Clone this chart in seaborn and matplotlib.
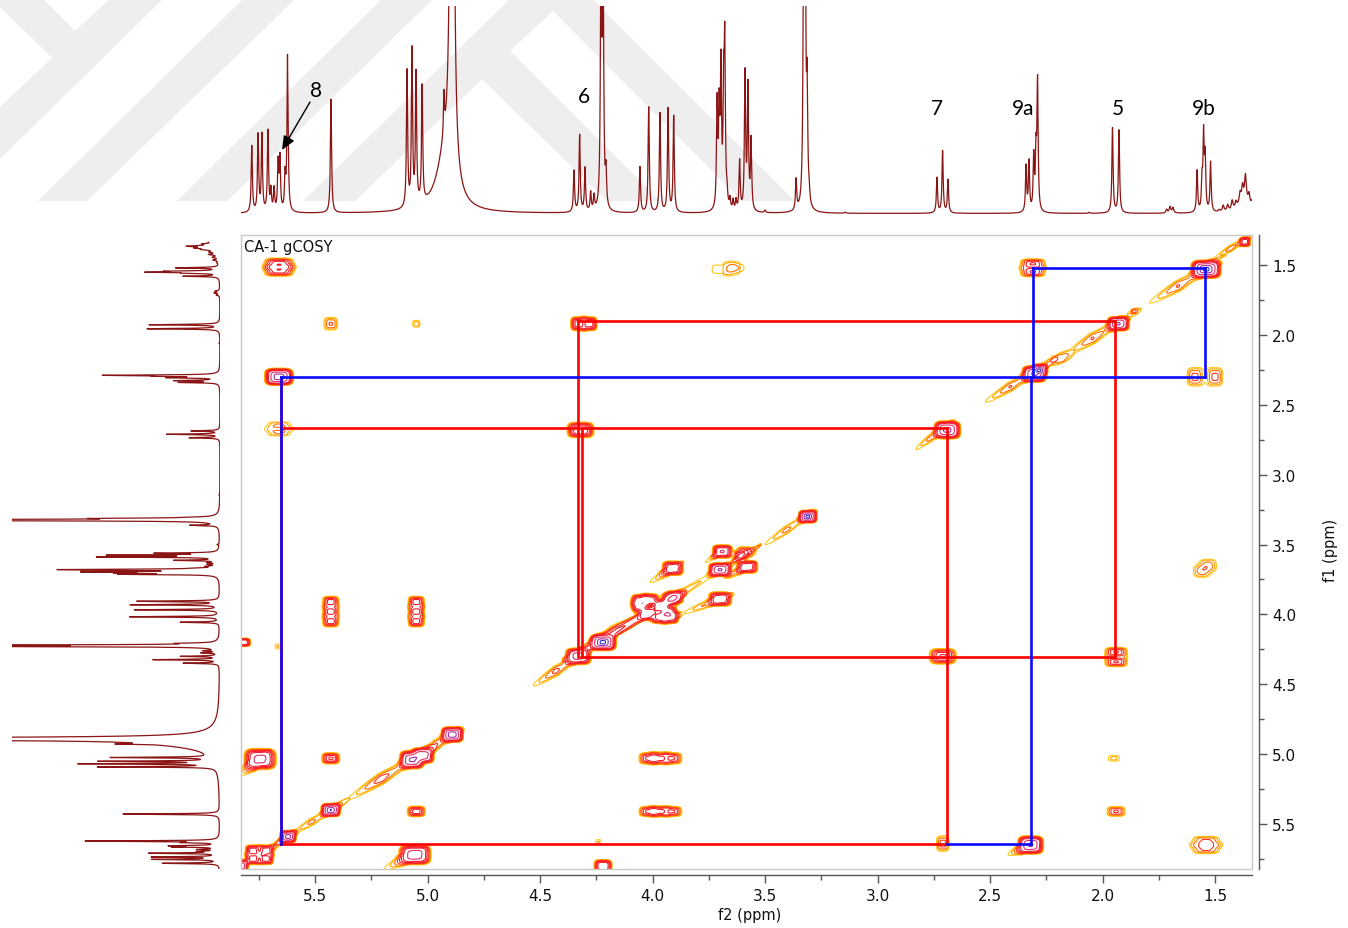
import numpy as np
import pandas as pd
import matplotlib
matplotlib.use("Agg")
import matplotlib.pyplot as plt
from matplotlib.patches import Polygon, Rectangle
import seaborn as sns

W, H = 1348, 929
X_LEFT, X_RIGHT = 5.829, 1.336
Y_TOP, Y_BOTTOM = 1.285, 5.822

# 1D proton spectrum: peak position (ppm), height, half-width (ppm)
peak_ppm = [5.781,5.753,5.736,5.709,5.696,5.682,5.664,5.656,5.633,5.622,5.429,5.091,5.069,5.051,5.024,
            4.891,4.922,4.927,4.349,4.324,4.300,4.275,4.260,4.229,4.220,4.207,4.056,4.017,3.967,3.931,3.906,
            3.713,3.704,3.696,3.684,3.679,3.669,3.656,3.642,3.629,3.613,3.589,3.576,3.562,3.500,3.362,
            3.328,3.322,3.313,3.304,3.144,2.736,2.711,2.687,2.340,2.327,2.306,2.296,2.289,2.060,1.956,1.927,
            1.715,1.700,1.687,1.580,1.558,1.551,1.544,1.520,1.482,1.464,1.444,1.424,1.407,1.389,1.378,1.365,1.349,1.336,1.37]
peak_height = [.32,.37,.37,.39,.10,.11,.23,.25,.16,.76,.55,.66,.75,.63,.56,
               6.7,.26,.20,.20,.37,.21,.09,.07,1.30,1.30,.16,.22,.51,.48,.50,.47,
               .50,.44,.66,.50,.74,.06,.05,.05,.05,.24,.66,.59,.34,.012,.15,
               1.50,1.50,.52,.05,.005,.17,.30,.16,.22,.24,.26,.26,.62,.005,.41,.40,
               .018,.03,.026,.20,.14,.36,.25,.24,.01,.03,.03,.045,.03,.05,.07,.12,.05,.03,.06]
peak_width = [.0031]*15 + [.0053,.044,.0027] + [.0031]*44 + [.004]*3 + [.0031]*5 + [.0045]*10 + [.03]

# Correlation peaks in the COSY plane: f2, f1, half-extent f2, half-extent f1, strength
blob_f2 = [1.367,1.54,1.93,2.304,2.28,2.69,3.31,3.69,3.58,3.70,3.91,3.70,3.59,3.61,
           4.056,4.011,3.922,3.96,4.056,4.026,3.93,3.967,3.922,3.90,4.22,4.33,4.89,5.07,5.02,5.43,5.62,
           5.744,5.43,5.05,5.056,5.776,5.718,5.776,5.718,5.83,5.66,5.66,5.43,5.05,4.33,4.28,3.70,3.62,
           2.31,2.31,1.59,1.50,5.66,5.66,5.66,4.32,1.94,1.94,2.71,5.82,5.665,5.43,5.43,5.43,5.05,5.05,5.05,
           1.53,1.56,4.02,3.97,3.91,4.02,3.97,3.91,4.22,4.24,1.95,1.94,2.71,2.32,1.54,1.54,1.86,2.20]
blob_f1 = [1.335,1.53,1.92,2.28,2.25,2.68,3.30,3.55,3.66,3.68,3.67,3.89,3.55,3.58,
           3.902,3.897,3.89,3.938,3.94,4.00,3.985,4.02,4.02,3.876,4.20,4.30,4.86,5.04,5.01,5.40,5.59,
           5.035,5.03,5.41,5.72,5.69,5.69,5.75,5.75,5.80,1.49,1.54,1.92,1.92,1.92,1.92,1.53,1.52,
           1.49,1.55,2.30,2.30,2.30,2.645,2.70,2.68,4.27,4.34,4.30,4.20,4.23,3.91,3.98,4.05,3.91,3.98,4.05,
           3.64,3.70,5.03,5.03,5.03,5.41,5.41,5.41,5.80,5.63,5.03,5.41,5.64,5.65,5.62,5.68,1.83,2.17]
blob_wx = [.024,.068,.05,.055,.034,.06,.042,.045,.048,.052,.048,.052,.034,.026,
           .038,.038,.038,.038,.038,.038,.038,.038,.038,.038,.06,.058,.05,.055,.05,.044,.037,
           .072,.04,.04,.072,.034,.034,.034,.034,.034,.065,.065,.03,.016,.034,.034,.035,.026,
           .055,.055,.034,.034,.065,.05,.05,.06,.05,.05,.06,.034,.012,.036,.036,.036,.036,.036,.036,
           .028,.028,.04,.04,.04,.04,.04,.04,.04,.012,.024,.04,.028,.058,.058,.058,.006,.03]
blob_wy = [.034,.066,.052,.06,.04,.065,.046,.048,.046,.05,.052,.052,.034,.03,
           .045,.045,.045,.045,.045,.045,.045,.045,.045,.045,.06,.06,.056,.066,.056,.048,.045,
           .076,.04,.038,.072,.04,.04,.04,.04,.045,.04,.04,.045,.024,.05,.05,.03,.025,
           .034,.034,.066,.066,.062,.022,.022,.056,.034,.034,.056,.03,.018,.04,.04,.04,.04,.04,.04,
           .035,.035,.04,.04,.04,.035,.035,.035,.045,.018,.02,.035,.055,.066,.032,.032,.008,.024]
blob_amp = [8,40,25,25,30,30,40,12,10,25,10,10,3,5,
            8,8,8,8,8,8,8,8,8,8,40,16,35,25,20,35,30,
            16,6,5,20,8,8,8,8,25,5,5,2.2,1.5,8,8,1.25,1.25,
            4,4,2.4,2.4,35,1.7,1.7,10,4,4,6,12,1.3,5,5,5,5,5,5,
            1.4,1.4,4,4,4,4,4,4,12,1.3,1.4,3,2.5,25,2.2,2.2,1.2,1.3]

# Ridges along the diagonal: f2/f1 of each end, width (ppm on f1), strength
ridge_x1 = [1.36,1.54,1.93,2.30,2.71,3.31,3.70,3.91,3.69,3.58,3.70,4.08,4.33,5.06,4.89,5.43,5.62,2.32,5.74,5.06,3.95,3.55]
ridge_y1 = [1.31,1.53,1.91,2.26,2.67,3.29,3.68,3.67,3.55,3.66,3.89,4.03,4.30,5.03,4.86,5.40,5.59,5.65,5.03,5.72,3.93,3.53]
ridge_x2 = [1.50,1.79,2.16,2.52,2.83,3.50,4.10,4.01,3.76,3.66,3.86,4.26,4.53,5.35,5.03,5.60,5.70,2.42,5.83,5.19,4.30,3.62]
ridge_y2 = [1.45,1.77,2.14,2.48,2.82,3.50,4.07,3.77,3.62,3.73,3.99,4.20,4.51,5.32,5.00,5.57,5.68,5.72,5.15,5.82,4.24,3.60]
ridge_w  = [.022,.04,.04,.034,.024,.028,.026,.024,.014,.02,.024,.04,.036,.042,.036,.026,.024,.03,.034,.034,.024,.014]
ridge_amp = [2,2.2,2.2,2.2,1.8,1.8,1.7,1.6,1.4,1.5,1.6,2.2,2.4,2.6,2.2,1.8,1.8,2,1.8,1.8,1.5,1.25]

# Assignment boxes: f2 start, f2 end, f1 start, f1 end
red_segments = [(4.33,1.944,1.90,1.90),(4.33,4.33,1.90,4.305),(4.315,4.315,2.667,4.305),
                (5.65,2.69,2.667,2.667),(4.32,1.944,4.305,4.305),(1.944,1.944,1.90,4.305),
                (2.69,2.69,2.667,5.643),(5.65,2.69,5.643,5.643),(5.65,5.65,2.30,5.643)]
blue_segments = [(2.31,1.544,1.52,1.52),(1.544,1.544,1.52,2.30),(5.65,1.544,2.30,2.30),
                 (2.31,2.31,1.52,2.30),(2.32,2.32,2.30,5.643),(2.69,2.32,5.643,5.643),(5.65,5.65,2.30,5.643)]

top_labels = ["8", "6", "7", "9a", "5", "9b"]
top_label_px = [(316, 91), (584, 97), (937, 109), (1023, 109), (1118, 109), (1204, 109)]

sns.set_theme(style="white")
plt.rcParams["font.family"] = ["DejaVu Sans"]
fig = plt.figure(figsize=(W / 100, H / 100), dpi=100)


def axes_px(x0, y0, x1, y1, **kw):
    return fig.add_axes([x0 / W, 1 - y1 / H, (x1 - x0) / W, (y1 - y0) / H], **kw)


# background watermark and free annotations, in pixel space
bg = axes_px(0, 0, W, H, zorder=0)
bg.set_xlim(0, W); bg.set_ylim(H, 0); bg.axis("off")
for poly in [
    [(0, 8), (52, 59), (0, 108), (0, 160), (163, 0), (110, 0), (75, 32), (43, 0), (0, 0)],
    [(243, 0), (295, 0), (87, 202), (38, 202)],
    [(382, 0), (433, 0), (227, 202), (177, 202)],
    [(303, 202), (510, 0), (592, 0), (795, 202), (742, 202), (553, 12), (510, 52),
     (660, 202), (607, 202), (482, 80), (355, 202)],
]:
    bg.add_patch(Polygon(poly, closed=True, fc="#eeeeee", ec="none"))

# spectrum trace
ppm = np.arange(X_RIGHT, X_LEFT + 0.0005, 0.0008)
trace = np.zeros_like(ppm)
for c, a, g in zip(peak_ppm, peak_height, peak_width):
    trace += a * g ** 2 / ((ppm - c) ** 2 + g ** 2)
spec = pd.DataFrame({"ppm": ppm, "intensity": trace})
LINE = "#8b1414"

top = axes_px(241, 7, 1252, 214.5, zorder=1)
top.patch.set_alpha(0)
sns.lineplot(data=spec, x="ppm", y="intensity", ax=top, color=LINE, lw=0.9, estimator=None, sort=False)
top.set_xlim(X_LEFT, X_RIGHT); top.set_ylim(0, 1); top.axis("off")

side = axes_px(12, 236, 220, 870, zorder=1)
side.patch.set_alpha(0)
sns.lineplot(data=spec, x="intensity", y="ppm", ax=side, color=LINE, lw=0.9, estimator=None, sort=False)
side.set_xlim(208 / 176, 0); side.set_ylim(Y_BOTTOM, Y_TOP); side.axis("off")

# 2D plane
ax = axes_px(241, 236, 1252, 870, zorder=2)
ax.patch.set_alpha(0)
PXX, PXY = 1011 / (X_LEFT - X_RIGHT), 634 / (Y_BOTTOM - Y_TOP)
gx = np.linspace(X_RIGHT, X_LEFT, 2000)
gy = np.linspace(Y_TOP, Y_BOTTOM, 1260)
Z = np.zeros((gy.size, gx.size))


def window(lo, hi, arr):
    return np.searchsorted(arr, lo), np.searchsorted(arr, hi)


for x, y, wx, wy, a in zip(blob_f2, blob_f1, blob_wx, blob_wy, blob_amp):
    i0, i1 = window(x - 2.5 * wx, x + 2.5 * wx, gx)
    j0, j1 = window(y - 2.5 * wy, y + 2.5 * wy, gy)
    if i1 <= i0 or j1 <= j0:
        continue
    XX, YY = np.meshgrid(gx[i0:i1], gy[j0:j1])
    r2 = np.sqrt(((XX - x) / wx) ** 4 + ((YY - y) / wy) ** 4)
    Z[j0:j1, i0:i1] += a ** (1 - r2)

for x1, y1, x2, y2, w, a in zip(ridge_x1, ridge_y1, ridge_x2, ridge_y2, ridge_w, ridge_amp):
    i0, i1 = window(min(x1, x2) - .1, max(x1, x2) + .1, gx)
    j0, j1 = window(min(y1, y2) - .1, max(y1, y2) + .1, gy)
    XX, YY = np.meshgrid(gx[i0:i1], gy[j0:j1])
    ex, ey = (x2 - x1) * PXX, (y2 - y1) * PXY
    L = np.hypot(ex, ey) / 2
    ex, ey = ex / (2 * L), ey / (2 * L)
    dx = (XX - (x1 + x2) / 2) * PXX
    dy = (YY - (y1 + y2) / 2) * PXY
    along = dx * ex + dy * ey
    perp = -dx * ey + dy * ex
    r = np.abs(along / L) + (perp / (w * PXY)) ** 2
    Z[j0:j1, i0:i1] += np.where(r < 2, a ** (1 - r), 0)

levels = [1, 1.25, 1.6, 2.1, 2.8, 3.8, 5.5, 12, 24, 36]
colors = ["#ffc81e", "#ffa800", "#ff7000", "#ff3818", "#ff2020", "#f21c24", "#ee2030", "#e0306a", "#a030a0", "#3030c8"]
ax.contour(gx, gy, Z, levels=levels, colors=colors, linewidths=0.8, zorder=2)

for seg, col in [(s, "#ff0000") for s in red_segments] + [(s, "#0a0aff") for s in blue_segments]:
    sns.lineplot(x=list(seg[:2]), y=list(seg[2:]), ax=ax, color=col, lw=1.9,
                 estimator=None, sort=False, zorder=3, solid_capstyle="projecting")

ax.set_xlim(X_LEFT, X_RIGHT); ax.set_ylim(Y_BOTTOM, Y_TOP)
ax.add_patch(Rectangle((0, 0), 1, 1, transform=ax.transAxes, fc="none", ec="#c8c8c8", lw=1.0, zorder=4, clip_on=False))
for s in ("top", "left"):
    ax.spines[s].set_visible(False)
for s, off in (("bottom", 4.3), ("right", 4.9)):
    ax.spines[s].set_position(("outward", off))
    ax.spines[s].set_color("#555555")
    ax.spines[s].set_linewidth(1.0)
ax.xaxis.set_ticks_position("bottom")
ax.yaxis.set_ticks_position("right")
ax.yaxis.set_label_position("right")
ax.set_xticks([1.5, 2.0, 2.5, 3.0, 3.5, 4.0, 4.5, 5.0, 5.5])
ax.set_xticks([1.75, 2.25, 2.75, 3.25, 3.75, 4.25, 4.75, 5.25, 5.75], minor=True)
ax.set_yticks([1.5, 2.0, 2.5, 3.0, 3.5, 4.0, 4.5, 5.0, 5.5])
ax.set_yticks([1.75, 2.25, 2.75, 3.25, 3.75, 4.25, 4.75, 5.25, 5.75], minor=True)
ax.set_xticklabels(["1.5", "2.0", "2.5", "3.0", "3.5", "4.0", "4.5", "5.0", "5.5"])
ax.set_yticklabels(["1.5", "2.0", "2.5", "3.0", "3.5", "4.0", "4.5", "5.0", "5.5"])
ax.tick_params(axis="both", which="major", length=5.5, width=1, color="#555555", labelsize=11,
               labelcolor="#111111", pad=4)
ax.tick_params(axis="both", which="minor", length=3.5, width=1, color="#555555")
ax.set_xlabel("")
ax.set_ylabel("")

bg2 = axes_px(0, 0, W, H, zorder=5)
bg2.set_xlim(0, W); bg2.set_ylim(H, 0); bg2.axis("off"); bg2.patch.set_alpha(0)
bg2.text(244, 247, "CA-1 gCOSY", fontsize=10.5, va="center", ha="left", color="#111111")
bg2.text(750, 916, "f2 (ppm)", fontsize=10.5, va="center", ha="center", color="#111111")
bg2.text(1331, 550, "f1 (ppm)", fontsize=10.5, va="center", ha="center", rotation=90, color="#111111")
for lab, (px, py) in zip(top_labels, top_label_px):
    bg2.text(px, py, lab, fontsize=15, family="Lato", va="center", ha="center", color="black")
bg2.annotate("", xy=(282, 151), xytext=(310, 103),
             arrowprops=dict(arrowstyle="-|>,head_length=0.7,head_width=0.3", color="black", lw=1.0,
                             shrinkA=0, shrinkB=0))

fig.savefig("out.png", dpi=100)
